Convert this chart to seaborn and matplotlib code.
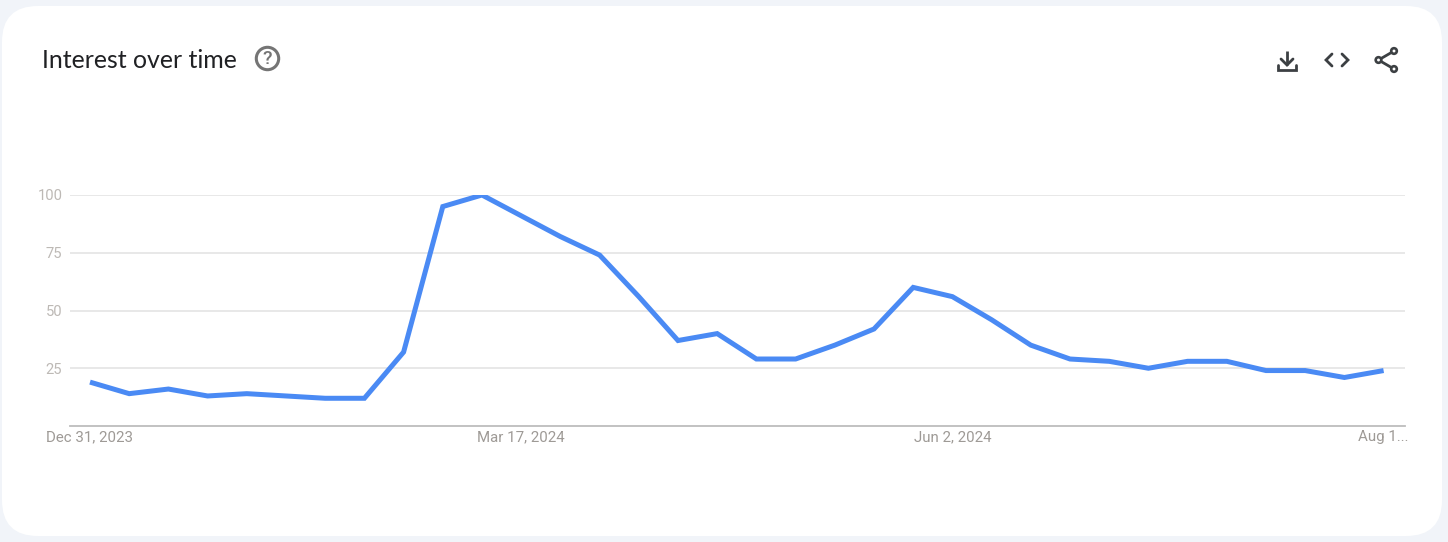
import matplotlib
matplotlib.use("Agg")
import matplotlib.pyplot as plt
from matplotlib.patches import FancyBboxPatch, Circle
import pandas as pd
import seaborn as sns

W, H = 1448, 542

# one point per week, starting Dec 31, 2023
weeks = pd.date_range("2023-12-31", periods=34, freq="7D")
interest = [19, 14, 16, 13, 14, 13, 12, 12, 32, 95, 100, 91, 82, 74, 56, 37, 40,
            29, 29, 35, 42, 60, 56, 46, 35, 29, 28, 25, 28, 28, 24, 24, 21, 24]
y_ticks = [25, 50, 75, 100]
x_tick_dates = ["2023-12-31", "2024-03-17", "2024-06-02", "2024-08-18"]
x_tick_labels = ["Dec 31, 2023", "Mar 17, 2024", "Jun 2, 2024", "Aug 1..."]
title = "Interest over time"

BLUE = "#4a8af4"
GRID = "#e2e2e2"
TICK_TEXT = "#bdb9b5"
XTICK_TEXT = "#9e9a96"
ICON = "#3c4043"

sns.set_theme(style="white")
plt.rcParams["font.family"] = ["Roboto", "DejaVu Sans"]

fig = plt.figure(figsize=(W / 100, H / 100), dpi=100, facecolor="#f1f4f9")

# page layer in pixel coords, y going down
bg = fig.add_axes([0, 0, 1, 1], zorder=0)
bg.set_xlim(0, W)
bg.set_ylim(H, 0)
bg.axis("off")
bg.add_patch(FancyBboxPatch((2 + 36, 6 + 36), 1440 - 72, 530 - 72,
                            boxstyle="round,pad=36,rounding_size=36",
                            fc="white", ec="none"))
bg.text(42, 60.5, title, fontsize=17.9, family=["Lato", "DejaVu Sans"], color="#202124",
        va="center", ha="left")

# help icon
bg.add_patch(Circle((267.5, 58.5), 11.2, fc="none", ec="#757575", lw=2.2))
bg.text(267.5, 59, "?", fontsize=14, color="#757575", ha="center", va="center",
        family=["Roboto"], fontweight="medium")

# download icon
bg.plot([1287, 1287], [51, 65], color=ICON, lw=2, solid_capstyle="butt")
bg.plot([1281, 1287, 1293], [59, 65, 59], color=ICON, lw=2, solid_joinstyle="miter")
bg.plot([1278, 1278, 1296, 1296], [65, 69.5, 69.5, 65], color=ICON, lw=2, solid_joinstyle="miter")
# embed icon
bg.plot([1332, 1326, 1332], [54, 60, 66], color=ICON, lw=2, solid_joinstyle="miter")
bg.plot([1342, 1348, 1342], [54, 60, 66], color=ICON, lw=2, solid_joinstyle="miter")
# share icon
bg.plot([1394, 1378.5, 1394], [51, 60, 69], color=ICON, lw=2)
for cx, cy in [(1394, 51), (1378.5, 60), (1394, 69)]:
    bg.add_patch(Circle((cx, cy), 2.8, fc="white", ec=ICON, lw=1.9, zorder=3))

# chart
left, right, top, bottom = 70, 1405, 195, 426
ax = fig.add_axes([left / W, 1 - bottom / H, (right - left) / W, (bottom - top) / H], zorder=1)
ax.patch.set_alpha(0)

df = pd.DataFrame({"week": weeks, "interest": interest})
sns.lineplot(data=df, x="week", y="interest", ax=ax, color=BLUE, linewidth=3.6,
             clip_on=True, solid_joinstyle="miter", solid_capstyle="butt")

# week 0 sits at 90px, one week is 39.2px
t0 = weeks[0]
ax.set_xlim(t0 - pd.Timedelta(days=7 * 20 / 39.2), t0 + pd.Timedelta(days=7 * (right - 90) / 39.2))
ax.set_ylim(0, 100)
ax.set_xlabel("")
ax.set_ylabel("")

ax.set_yticks(y_ticks)
ax.set_yticklabels([str(v) for v in y_ticks], fontsize=10.6, color=TICK_TEXT)
ax.set_xticks(pd.to_datetime(x_tick_dates))
ax.set_xticklabels(x_tick_labels, fontsize=10.8, color=XTICK_TEXT)
ax.tick_params(axis="both", length=0)
ax.tick_params(axis="y", pad=5.5)
ax.tick_params(axis="x", pad=2.8)

ax.grid(axis="y", color=GRID, linewidth=1.1)
ax.set_axisbelow(True)
sns.despine(ax=ax, left=True, top=True, right=True)
ax.spines["bottom"].set_color("#bdbdbd")
ax.spines["bottom"].set_linewidth(1.3)

fig.savefig("out.png", dpi=100, facecolor=fig.get_facecolor())
